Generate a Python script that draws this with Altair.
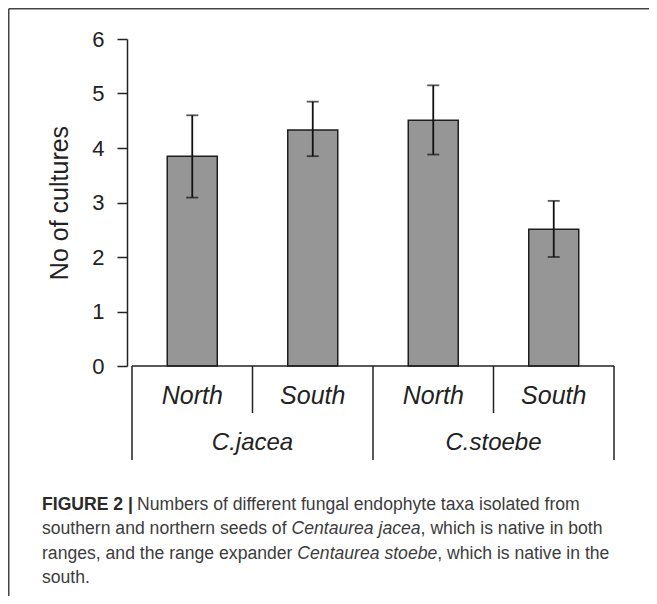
import altair as alt
import pandas as pd

# ---------------- data ----------------
sites = ["North", "South", "North", "South"]
species = ["C.jacea", "C.jacea", "C.stoebe", "C.stoebe"]
means = [3.85, 4.33, 4.51, 2.51]
err_low = [3.09, 3.85, 3.88, 2.00]
err_high = [4.60, 4.85, 5.15, 3.03]
y_ticks = [0, 1, 2, 3, 4, 5, 6]
y_title = "No of cultures"

caption_lines = [
    [("FIGURE 2 |", "bold"), (" Numbers of different fungal endophyte taxa isolated from", "normal")],
    [("southern and northern seeds of ", "normal"), ("Centaurea jacea", "italic"),
     (", which is native in both", "normal")],
    [("ranges, and the range expander ", "normal"), ("Centaurea stoebe", "italic"),
     (", which is native in the", "normal")],
    [("south.", "normal")],
]

# ---------------- layout ----------------
FONT = "Liberation Sans"
W, H = 492, 327
PAD = {"left": 119, "top": 31, "right": 30, "bottom": 230}
INK = "#222222"

n = len(sites)
xs = alt.Scale(domain=[0, n], nice=False, zero=False)
ys = alt.Scale(domain=[0, 6], nice=False)

bars_df = pd.DataFrame({
    "pos": [i + 0.5 for i in range(n)],
    "site": sites,
    "species": species,
    "mean": means,
    "lo": err_low,
    "hi": err_high,
})

# group boundaries (long) and site boundaries (short)
long_b, short_b = [0], []
for i in range(1, n):
    (long_b if species[i] != species[i - 1] else short_b).append(i)
long_b.append(n)
groups = []
for sp in dict.fromkeys(species):
    idx = [i for i, s in enumerate(species) if s == sp]
    groups.append({"species": sp, "pos": (min(idx) + max(idx) + 1) / 2})
groups_df = pd.DataFrame(groups)

# ---------------- caption text metrics (Arial / Liberation Sans) ----------------
REG = dict(zip("abcdefghijklmnopqrstuvwxyz",
               [556, 556, 500, 556, 556, 278, 556, 556, 222, 222, 500, 222, 833,
                556, 556, 556, 556, 333, 500, 278, 556, 500, 722, 500, 500, 500]))
REG.update({" ": 278, ",": 278, ".": 278, "|": 260, "N": 722, "C": 722})
BOLD = {"F": 611, "I": 278, "G": 778, "U": 722, "R": 722, "E": 667, " ": 278, "2": 556, "|": 280}
CAP_FS = 17.6


def text_width(s, style):
    table = BOLD if style == "bold" else REG
    return sum(table.get(c, 556) for c in s) * CAP_FS / 1000.0


cap_rows = []
cap_x0 = 42 - 8 - PAD["left"]
cap_y = [505, 529, 554, 578]
for li, line in enumerate(caption_lines):
    x = cap_x0
    for seg, style in line:
        cap_rows.append({"cx": x, "cy": cap_y[li] - 8 - PAD["top"], "t": seg, "style": style})
        x += text_width(seg, style) + (4 if style == "bold" else 0)
cap_df = pd.DataFrame(cap_rows)

# ---------------- marks ----------------
bars = alt.Chart(bars_df).mark_bar(
    orient="vertical", width=50, fill="#969696", stroke="#1e1e1e", strokeWidth=1.5
).encode(
    x=alt.X("pos:Q", scale=xs, axis=None),
    y=alt.Y("mean:Q", scale=ys, axis=alt.Axis(
        values=y_ticks, format="d", grid=False,
        domainColor=INK, domainWidth=1.5,
        tickColor=INK, tickWidth=1.5, tickSize=10,
        labelFont=FONT, labelFontSize=22, labelColor=INK, labelPadding=13,
        title=y_title, titleFont=FONT, titleFontSize=25, titleFontWeight="normal",
        titleColor=INK, titlePadding=19,
    )),
)

err = alt.Chart(bars_df).mark_rule(color="#111111", strokeWidth=1.8).encode(
    x=alt.X("pos:Q", scale=xs, axis=None),
    y=alt.Y("lo:Q", scale=ys),
    y2="hi:Q",
)
cap_hi = alt.Chart(bars_df).mark_tick(orient="horizontal", size=12, thickness=1.8, color="#111111").encode(
    x=alt.X("pos:Q", scale=xs, axis=None),
    y=alt.Y("hi:Q", scale=ys),
)
cap_lo = alt.Chart(bars_df).mark_tick(orient="horizontal", size=12, thickness=1.8, color="#111111").encode(
    x=alt.X("pos:Q", scale=xs, axis=None),
    y=alt.Y("lo:Q", scale=ys),
)

baseline = alt.Chart(pd.DataFrame({"a": [0], "b": [n], "z": [0]})).mark_rule(
    color=INK, strokeWidth=1.5).encode(
    x=alt.X("a:Q", scale=xs, axis=None), x2="b:Q", y=alt.Y("z:Q", scale=ys))

sep_long = alt.Chart(pd.DataFrame({"b": long_b})).mark_rule(color=INK, strokeWidth=1.5).encode(
    x=alt.X("b:Q", scale=xs, axis=None), y=alt.value(H), y2=alt.value(H + 94))
sep_short = alt.Chart(pd.DataFrame({"b": short_b})).mark_rule(color=INK, strokeWidth=1.5).encode(
    x=alt.X("b:Q", scale=xs, axis=None), y=alt.value(H), y2=alt.value(H + 47))

site_lbl = alt.Chart(bars_df).mark_text(
    font=FONT, fontSize=25, fontStyle="italic", color=INK, baseline="middle", align="center"
).encode(x=alt.X("pos:Q", scale=xs, axis=None), y=alt.value(H + 30), text="site:N")

grp_lbl = alt.Chart(groups_df).mark_text(
    font=FONT, fontSize=24, fontStyle="italic", color=INK, baseline="middle", align="center"
).encode(x=alt.X("pos:Q", scale=xs, axis=None), y=alt.value(H + 77), text="species:N")

frame_top = alt.Chart(pd.DataFrame({"k": [0]})).mark_rule(color="#444444", strokeWidth=1.5).encode(
    x=alt.value(-PAD["left"] + 0.75), x2=alt.value(W + PAD["right"]), y=alt.value(-PAD["top"] + 0.75))
frame_left = alt.Chart(pd.DataFrame({"k": [0]})).mark_rule(color="#444444", strokeWidth=1.5).encode(
    x=alt.value(-PAD["left"] + 0.75), y=alt.value(-PAD["top"] + 0.75), y2=alt.value(H + PAD["bottom"]))


def caption_layer(style, weight, fstyle, color):
    return alt.Chart(cap_df[cap_df["style"] == style]).mark_text(
        font=FONT, fontSize=CAP_FS, fontWeight=weight, fontStyle=fstyle, color=color,
        align="left", baseline="middle"
    ).encode(
        x=alt.X("cx:Q", scale=None), y=alt.Y("cy:Q", scale=None), text="t:N"
    )


cap_bold = caption_layer("bold", "bold", "normal", "#2a2a2a")
cap_norm = caption_layer("normal", "normal", "normal", "#3c3c3c")
cap_ital = caption_layer("italic", "normal", "italic", "#3c3c3c")

chart = alt.layer(
    frame_top, frame_left, bars, err, cap_hi, cap_lo, baseline, sep_long, sep_short,
    site_lbl, grp_lbl, cap_bold, cap_norm, cap_ital
).properties(
    width=W, height=H, padding=PAD, autosize=alt.AutoSizeParams(type="none")
).configure_view(stroke=None)

chart.save("out.html", embed_options={"renderer": "svg", "actions": False})
